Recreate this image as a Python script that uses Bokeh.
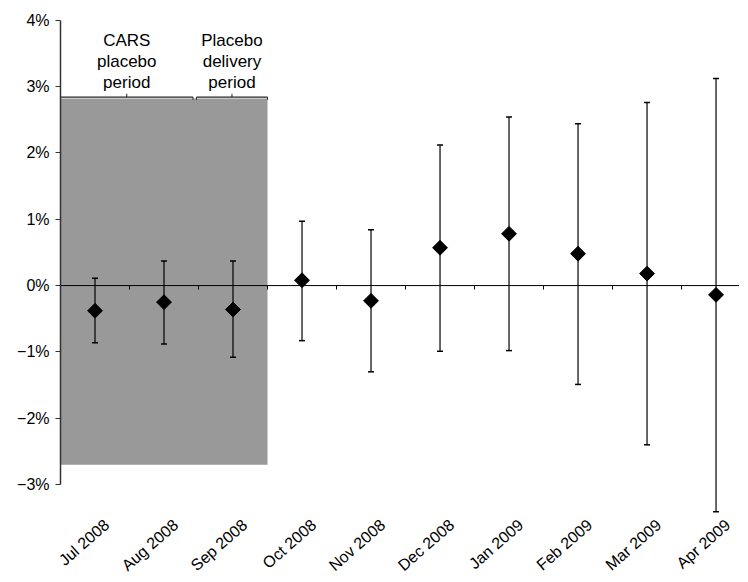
import math
from bokeh.plotting import figure
from bokeh.models import Range1d, FixedTicker, ColumnDataSource, Span
from bokeh.core.properties import value
from bokeh.embed import file_html
from bokeh.resources import INLINE

# ---- data (percent) ----
months = ["Jul 2008", "Aug 2008", "Sep 2008", "Oct 2008", "Nov 2008",
          "Dec 2008", "Jan 2009", "Feb 2009", "Mar 2009", "Apr 2009"]
estimate = [-0.38, -0.25, -0.36, 0.08, -0.23, 0.57, 0.78, 0.48, 0.18, -0.14]
upper = [0.11, 0.37, 0.37, 0.97, 0.84, 2.12, 2.54, 2.44, 2.76, 3.12]
lower = [-0.86, -0.88, -1.08, -0.83, -1.30, -0.99, -0.98, -1.49, -2.40, -3.41]

y_ticks = [-3, -2, -1, 0, 1, 2, 3, 4]

# placebo periods (in month-index units)
period_labels = ["CARS\nplacebo\nperiod", "Placebo\ndelivery\nperiod"]
period_start = [-0.5, 1.47]
period_end = [1.42, 2.5]
shade_top = 2.82
shade_bottom = -2.70

FONT = "Liberation Sans"
LABEL_SHIFT = 0.17  # rotated month labels sit slightly right of their month

x = list(range(len(months)))
src = ColumnDataSource(dict(x=x, est=estimate, up=upper, lo=lower))

p = figure(output_backend="svg", toolbar_location=None,
           frame_width=679, frame_height=501,
           min_border_left=60, min_border_right=0,
           min_border_top=13, min_border_bottom=64,
           x_range=Range1d(-0.5, 9.34), y_range=Range1d(-3.45, 4.1))
p.outline_line_color = None
p.xgrid.grid_line_color = None
p.ygrid.grid_line_color = None
p.background_fill_color = "white"
p.border_fill_color = "white"

# shaded placebo region
p.quad(left=[period_start[0]], right=[period_end[-1]], top=[shade_top],
       bottom=[shade_bottom], fill_color="#999999", line_color=None)

# brackets over periods
mids = [(a + b) / 2 for a, b in zip(period_start, period_end)]
by = shade_top + 0.02
p.segment(x0=period_start, y0=[by] * 2, x1=period_end, y1=[by] * 2,
          line_color="#222222", line_width=1.2)
p.segment(x0=period_start, y0=[by] * 2, x1=period_start, y1=[by - 0.04] * 2,
          line_color="#222222", line_width=1)
p.segment(x0=period_end, y0=[by] * 2, x1=period_end, y1=[by - 0.04] * 2,
          line_color="#222222", line_width=1)
p.segment(x0=mids, y0=[by] * 2, x1=mids, y1=[by + 0.05] * 2,
          line_color="#222222", line_width=1)
p.text(x=mids, y=[2.92] * 2, text=period_labels, text_align="center",
       text_baseline="bottom", text_font=value(FONT), text_font_size="17px",
       text_line_height=1.1, text_color="black")

# zero line with boundary ticks
p.add_layout(Span(location=0, dimension="width", line_color="black", line_width=1))
bounds = [i + 0.5 for i in range(len(months) - 1)]
p.segment(x0=bounds, y0=[0] * len(bounds), x1=bounds, y1=[-0.06] * len(bounds),
          line_color="black", line_width=1)

# error bars
p.segment(x0="x", y0="lo", x1="x", y1="up", source=src, line_color="black", line_width=1.2)
p.scatter(x="x", y="up", source=src, marker="dash", size=6, line_color="black", line_width=1.5)
p.scatter(x="x", y="lo", source=src, marker="dash", size=6, line_color="black", line_width=1.5)

# estimates
p.scatter(x="x", y="est", source=src, marker="square", angle=math.pi / 4, size=10.5,
          fill_color="black", line_color="black")

# y axis
ya = p.yaxis[0]
ya.ticker = FixedTicker(ticks=y_ticks)
ya.bounds = (-3, 4)
ya.major_label_overrides = {t: (("\u2212" if t < 0 else "") + f"{abs(t)}%") for t in y_ticks}
ya.axis_line_color = "#333333"
ya.axis_line_width = 1.5
ya.major_tick_out = 5
ya.major_tick_in = 0
ya.major_tick_line_color = "#333333"
ya.minor_tick_line_color = None
ya.major_label_text_font = FONT
ya.major_label_text_font_size = "16px"
ya.major_label_text_color = "black"
ya.major_label_standoff = 6

# x axis (labels only)
label_pos = [i + LABEL_SHIFT for i in x]
xa = p.xaxis[0]
xa.ticker = FixedTicker(ticks=label_pos)
xa.major_label_overrides = {pos: m for pos, m in zip(label_pos, months)}
xa.major_label_orientation = 0.72
xa.axis_line_color = None
xa.major_tick_line_color = None
xa.minor_tick_line_color = None
xa.major_label_text_font = FONT
xa.major_label_text_font_size = "16px"
xa.major_label_text_color = "black"
xa.major_label_standoff = 2

open("out.html", "w").write(file_html(p, INLINE))
